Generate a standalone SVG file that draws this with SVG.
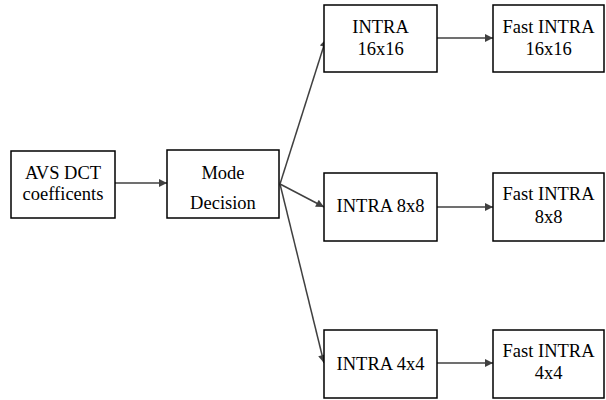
<svg xmlns="http://www.w3.org/2000/svg" width="606" height="400" viewBox="0 0 606 400">
  <style>
    .box { fill: #ffffff; stroke: #000000; stroke-width: 1.5; }
    .lbl { font-family: "Liberation Serif", "Times New Roman", serif; font-size: 18.5px; fill: #000000; text-anchor: middle; }
    .edge { fill: none; stroke: #404040; stroke-width: 1.5; marker-end: url(#arrow); }
  </style>
  <defs>
    <marker id="arrow" viewBox="0 0 10 10" refX="10" refY="5" markerWidth="9" markerHeight="8" markerUnits="userSpaceOnUse" orient="auto">
      <path d="M0,0 L10,5 L0,10 z" fill="#404040"/>
    </marker>
  </defs>
  <rect width="606" height="400" fill="#ffffff"/>

  <g id="connectors">
    <line class="edge" x1="115" y1="183" x2="167" y2="183"/>
    <line class="edge" x1="280" y1="184" x2="326" y2="39"/>
    <line class="edge" x1="280" y1="184" x2="324" y2="207"/>
    <line class="edge" x1="280" y1="184" x2="324" y2="363"/>
    <line class="edge" x1="437" y1="38" x2="493" y2="38"/>
    <line class="edge" x1="437" y1="207" x2="493" y2="207"/>
    <line class="edge" x1="437" y1="363" x2="493" y2="363"/>
  </g>

  <g id="avs-dct">
    <rect class="box" x="11" y="151" width="104" height="67"/>
    <text class="lbl" x="63" y="179">AVS DCT</text>
    <text class="lbl" x="63" y="200">coefficents</text>
  </g>

  <g id="mode-decision">
    <rect class="box" x="167" y="150" width="112" height="68"/>
    <text class="lbl" x="223" y="179">Mode</text>
    <text class="lbl" x="223" y="209">Decision</text>
  </g>

  <g id="intra-16x16">
    <rect class="box" x="324" y="5" width="113" height="67"/>
    <text class="lbl" x="380.5" y="33">INTRA</text>
    <text class="lbl" x="380.5" y="55">16x16</text>
  </g>

  <g id="fast-intra-16x16">
    <rect class="box" x="493" y="5" width="111" height="67"/>
    <text class="lbl" x="548.5" y="33">Fast INTRA</text>
    <text class="lbl" x="548.5" y="55">16x16</text>
  </g>

  <g id="intra-8x8">
    <rect class="box" x="324" y="173" width="113" height="68"/>
    <text class="lbl" x="380.5" y="212">INTRA 8x8</text>
  </g>

  <g id="fast-intra-8x8">
    <rect class="box" x="493" y="173" width="111" height="68"/>
    <text class="lbl" x="548.5" y="200">Fast INTRA</text>
    <text class="lbl" x="548.5" y="223">8x8</text>
  </g>

  <g id="intra-4x4">
    <rect class="box" x="324" y="330" width="113" height="68"/>
    <text class="lbl" x="380.5" y="370">INTRA 4x4</text>
  </g>

  <g id="fast-intra-4x4">
    <rect class="box" x="493" y="330" width="111" height="68"/>
    <text class="lbl" x="548.5" y="357">Fast INTRA</text>
    <text class="lbl" x="548.5" y="379">4x4</text>
  </g>
</svg>
